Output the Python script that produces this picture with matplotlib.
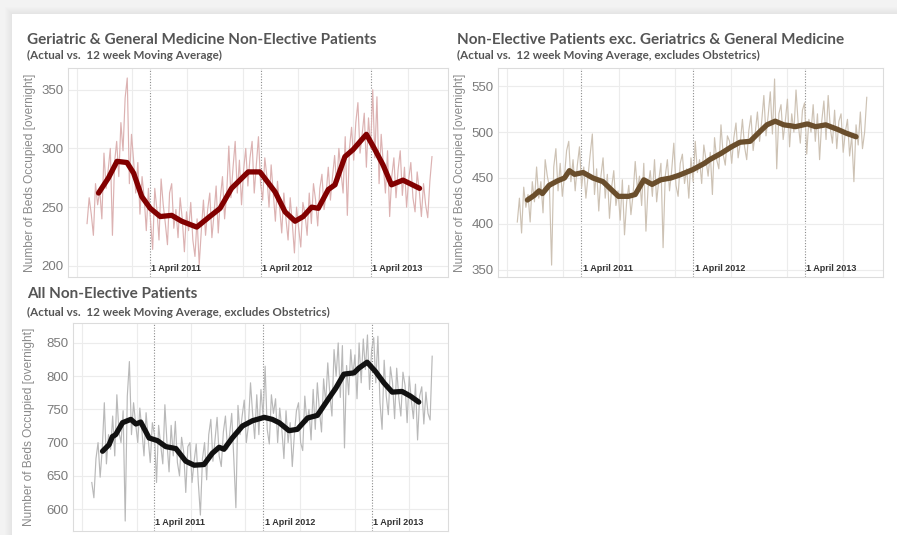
import numpy as np
import matplotlib.pyplot as plt
import matplotlib.transforms as mtrans
from matplotlib.patches import Rectangle

# all x positions are days counted from 1 April 2011
base = np.datetime64('2011-04-01')
first_day = -209   # first weekly reading
step = 7

# Geriatric & General Medicine - weekly readings
ger_actual = [236, 258, 244, 226, 270, 252, 264, 240, 296, 266, 282, 300, 226, 288, 306, 276, 322, 298, 343, 360,
              270, 312, 290, 262, 288, 244, 276, 258, 230, 266, 238, 214, 266, 248, 222, 274, 252, 236, 218, 262,
              270, 232, 248, 224, 258, 240, 212, 246, 230, 254, 222, 208, 240, 201, 230, 256, 226, 248, 262, 224,
              244, 268, 228, 258, 276, 240, 262, 302, 258, 284, 306, 262, 290, 252, 282, 300, 268, 292, 306, 262,
              286, 310, 270, 256, 292, 276, 250, 286, 262, 238, 272, 250, 228, 262, 240, 222, 258, 236, 211, 250,
              232, 216, 254, 244, 226, 262, 236, 270, 256, 234, 266, 278, 248, 262, 284, 256, 276, 294, 268, 300,
              280, 262, 310, 243, 300, 318, 290, 322, 339, 296, 312, 330, 284, 326, 300, 350, 292, 344, 270, 312,
              286, 262, 298, 242, 276, 292, 258, 282, 298, 260, 284, 250, 274, 288, 258, 246, 280, 264, 242, 270,
              252, 241, 272, 293]
ger_ma_days = [-171, -138, -110, -77, -55, -28, 0, 33, 71, 104, 154, 192, 231, 269, 324, 363, 413, 446, 479, 506,
               534, 556, 589, 611, 644, 671, 715, 737, 770, 798, 836, 891]
ger_ma = [262, 275, 289, 288, 279, 259, 249, 242, 243, 238, 233, 241, 249, 266, 280, 280, 263, 246, 238, 242,
          250, 249, 265, 269, 293, 299, 312, 302, 286, 269, 273, 266]

# Non-elective excluding Geriatrics & General Medicine
oth_actual = [402, 428, 390, 440, 418, 432, 402, 446, 424, 462, 428, 446, 412, 470, 452, 440, 355, 462, 482, 436,
              466, 430, 452, 480, 490, 446, 470, 436, 464, 484, 440, 462, 428, 452, 476, 498, 432, 460, 414, 452,
              472, 428, 454, 406, 440, 458, 420, 436, 404, 448, 388, 424, 442, 410, 432, 468, 438, 452, 420, 466,
              392, 440, 458, 430, 470, 424, 448, 466, 374, 452, 470, 436, 458, 488, 442, 430, 466, 476, 444, 460,
              428, 472, 446, 490, 456, 470, 444, 486, 470, 452, 478, 432, 494, 470, 460, 508, 476, 464, 496, 490,
              466, 494, 510, 472, 488, 514, 484, 470, 502, 518, 480, 500, 522, 490, 512, 540, 496, 518, 544, 498,
              558, 460, 520, 530, 492, 512, 536, 484, 520, 500, 546, 510, 488, 524, 532, 476, 514, 500, 530, 490,
              520, 470, 512, 534, 492, 540, 504, 488, 524, 482, 512, 520, 478, 500, 514, 474, 496, 446, 508, 486,
              522, 482, 500, 538]
oth_ma_days = [-176, -154, -138, -127, -105, -77, -55, -39, -22, 6, 38, 71, 99, 121, 154, 176, 204, 231, 259, 292,
               319, 363, 402, 419, 457, 490, 518, 551, 578, 606, 633, 661, 683, 699, 738, 765, 798, 837, 864, 897]
oth_ma = [426, 431, 436, 433, 442, 447, 450, 458, 454, 456, 450, 446, 437, 430, 430, 432, 448, 443, 448, 450,
          453, 459, 466, 470, 477, 484, 489, 490, 499, 508, 512, 508, 507, 506, 509, 506, 508, 503, 499, 495]

# All non-elective patients
all_actual = [640, 617, 676, 700, 648, 690, 760, 668, 712, 690, 740, 680, 772, 716, 700, 748, 582, 770, 822, 712,
              760, 728, 700, 752, 718, 680, 745, 706, 670, 730, 712, 640, 726, 696, 668, 757, 700, 656, 726, 680,
              732, 670, 650, 708, 686, 625, 694, 700, 640, 672, 698, 640, 591, 676, 700, 644, 712, 735, 672, 704,
              738, 680, 664, 716, 740, 690, 712, 744, 676, 602, 756, 712, 740, 764, 700, 726, 790, 744, 706, 772,
              712, 780, 740, 815, 720, 698, 772, 744, 766, 700, 752, 720, 676, 748, 700, 730, 664, 712, 748, 760,
              700, 688, 770, 730, 750, 704, 780, 720, 790, 748, 716, 796, 760, 820, 772, 740, 840, 800, 850, 768,
              846, 692, 816, 772, 840, 800, 832, 766, 850, 790, 856, 810, 862, 780, 840, 858, 790, 860, 760, 720,
              824, 770, 742, 814, 790, 736, 812, 768, 740, 806, 786, 730, 800, 764, 736, 788, 704, 770, 784, 728,
              776, 744, 734, 830]
all_ma_days = [-173, -151, -140, -129, -106, -78, -61, -45, -17, 11, 39, 73, 106, 134, 167, 195, 218, 234, 262, 296,
               330, 369, 396, 419, 452, 480, 514, 547, 586, 609, 636, 670, 686, 714, 742, 770, 798, 831, 859, 887]
all_ma = [687, 697, 709, 712, 730, 735, 728, 731, 707, 703, 694, 691, 672, 666, 667, 684, 693, 690, 707, 725,
          733, 738, 735, 730, 718, 720, 737, 741, 767, 782, 803, 805, 812, 821, 807, 790, 776, 777, 770, 761]

april_marks = ['2011-04-01', '2012-04-01', '2013-04-01']
april_labels = ['1 April 2011', '1 April 2012', '1 April 2013']
half_years = ['2010-08-01', '2011-02-01', '2011-08-01', '2012-02-01', '2012-08-01', '2013-02-01', '2013-08-01']


def to_dates(days):
    return base + np.array(days, dtype='timedelta64[D]')


def draw(ax, actual, ma_days, ma, light, dark, yticks, ylim, label_x):
    days = first_day + step * np.arange(len(actual))
    ax.set_facecolor('none')
    ax.plot(to_dates(days), actual, color=light, lw=0.85, zorder=2)
    ax.plot(to_dates(ma_days), ma, color=dark, lw=3.8, solid_capstyle='round',
            solid_joinstyle='round', zorder=3)
    ax.set_xlim(to_dates([-272])[0], to_dates([985])[0])
    ax.set_ylim(*ylim)
    ax.set_yticks(yticks)
    ax.set_xticks(np.array(half_years, dtype='datetime64[D]'))
    ax.set_xticklabels([])
    ax.tick_params(length=0, labelsize=9.5, labelcolor='#7a7a7a', pad=3)
    for t in ax.get_yticklabels():
        t.set_family('Liberation Sans')
    ax.grid(True, color='#ececec', lw=0.8, zorder=0)
    for sp in ax.spines.values():
        sp.set_color('#dcdcdc')
        sp.set_linewidth(0.8)
    trans = mtrans.blended_transform_factory(ax.transData, ax.transAxes)
    for d, lab in zip(april_marks, april_labels):
        x = np.datetime64(d)
        ax.axvline(x, color='#8c8c8c', lw=0.8, ls=(0, (1, 1.5)), zorder=1)
        ax.text(x + np.timedelta64(4, 'D'), 0.018, lab, transform=trans, fontsize=6.5,
                fontweight='bold', color='#333333', family='Liberation Sans', va='bottom')
    ax.set_ylabel('Number of Beds Occupied [overnight]', fontsize=8.6, color='#8a8a8a',
                  family='Liberation Sans')
    ax.yaxis.set_label_coords(label_x, 0.5)


W, H = 897, 535
fig = plt.figure(figsize=(W / 100, H / 100), dpi=100)
fig.patch.set_facecolor('#f3f3f3')

# card with a soft shadow, kept behind the axes
for k in range(8):
    fig.patches.append(Rectangle(((12 - k) / W, 0), 1, (H - 14 + k) / H, transform=fig.transFigure,
                                 facecolor='#bbbbbb', edgecolor='none', alpha=0.03, zorder=-10))
fig.patches.append(Rectangle((12 / W, 0), 1, (H - 14) / H, transform=fig.transFigure,
                             facecolor='white', edgecolor='none', zorder=-5))

ax1 = fig.add_axes([68 / W, 1 - 277 / H, 380 / W, 209 / H])
ax2 = fig.add_axes([498 / W, 1 - 277 / H, 385 / W, 209 / H])
ax3 = fig.add_axes([73 / W, 1 - 531 / H, 375 / W, 208 / H])

draw(ax1, ger_actual, ger_ma_days, ger_ma, '#dcb2b2', '#820000', [200, 250, 300, 350], (190.5, 368.5), -0.085)
draw(ax2, oth_actual, oth_ma_days, oth_ma, '#cdc2b4', '#6a4e2c', [350, 400, 450, 500, 550], (342, 570), -0.083)
draw(ax3, all_actual, all_ma_days, all_ma, '#b9b9b9', '#111111', [600, 650, 700, 750, 800, 850], (567, 880), -0.101)

title_kw = dict(fontsize=11, fontweight='bold', color='#555555', family='Lato', va='baseline')
sub_kw = dict(fontsize=8.4, fontweight='bold', color='#555555', family='Lato', va='baseline')
fig.text(27 / W, 1 - 43.5 / H, 'Geriatric & General Medicine Non-Elective Patients', **title_kw)
fig.text(27 / W, 1 - 59 / H, '(Actual vs.  12 week Moving Average)', **sub_kw)
fig.text(457 / W, 1 - 43.5 / H, 'Non-Elective Patients exc. Geriatrics & General Medicine', **title_kw)
fig.text(457 / W, 1 - 59 / H, '(Actual vs.  12 week Moving Average, excludes Obstetrics)', **sub_kw)
fig.text(27 / W, 1 - 298.5 / H, 'All Non-Elective Patients', **title_kw)
fig.text(27 / W, 1 - 316.5 / H, '(Actual vs.  12 week Moving Average, excludes Obstetrics)', **sub_kw)

fig.savefig('out.png', dpi=100, facecolor=fig.get_facecolor())
